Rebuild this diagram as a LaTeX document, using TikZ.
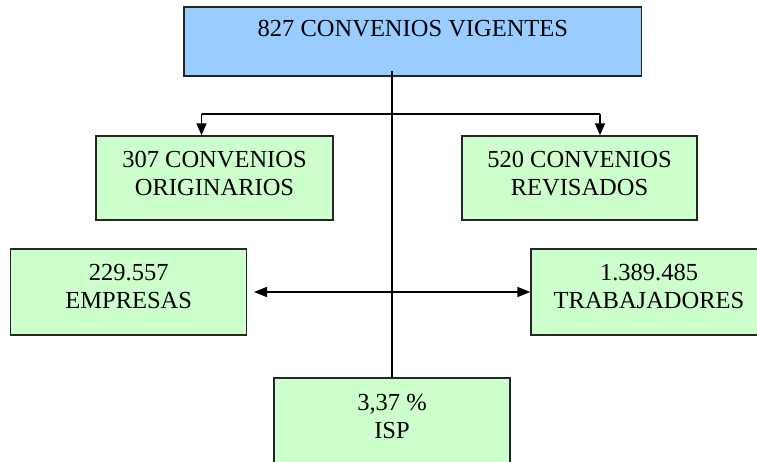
\documentclass[tikz,border=0pt]{standalone}
\usepackage{fontspec}
\setmainfont{Liberation Serif}
\usetikzlibrary{arrows.meta}
\definecolor{boxblue}{HTML}{99CCFF}
\definecolor{boxgreen}{HTML}{CCFFCC}
\begin{document}
\begin{tikzpicture}[x=1pt,y=-1pt,
  box/.style={draw=black!85, line width=1.4pt, rectangle, inner sep=0pt},
  greenbox/.style={box, fill=boxgreen, minimum width=236pt, minimum height=86pt},
  lbl/.style={align=center, inner sep=0pt, font=\fontsize{24.5}{28}\selectfont},
  conn/.style={line width=1.5pt, black},
  tip/.style={conn, -{Triangle[length=12pt,width=10pt]}},
  dtip/.style={conn, {Triangle[length=13pt,width=10pt]}-{Triangle[length=13pt,width=10pt]}}]
\useasboundingbox (0,0) rectangle (757,461);
\clip (0,0) rectangle (757,461);
% boxes
\node[box, fill=boxblue, minimum width=457.7pt, minimum height=69pt] (top) at (412.9,41.5) {};
\node[lbl] (toptext) at (412.9,28.5) {827 CONVENIOS VIGENTES};
\node[greenbox, minimum width=237pt, minimum height=84pt] (orig) at (214.5,178) {};
\node[lbl] (origtext) at (214.5,173.8) {307 CONVENIOS\\ORIGINARIOS};
\node[greenbox, minimum width=235pt, minimum height=84pt] (rev) at (579.5,178) {};
\node[lbl] (revtext) at (579.5,173.8) {520 CONVENIOS\\REVISADOS};
\node[greenbox] (emp) at (128.7,292) {};
\node[lbl] (emptext) at (128.7,286.8) {229.557\\EMPRESAS};
\node[greenbox] (trab) at (649,292) {};
\node[lbl] (trabtext) at (649,286.8) {1.389.485\\TRABAJADORES};
\node[greenbox] (isp) at (392,421) {};
\node[lbl] (isptext) at (392,416) {3,37 \%\\ISP};
% connectors
\coordinate (spine) at (392,70.5);
\coordinate (bl) at (201.5,114);
\coordinate (br) at (600,114);
\draw[conn] (spine) -- (isp.north);
\draw[conn] (bl) -- (br);
\draw[tip] (bl) -- (bl |- orig.north);
\draw[tip] (br) -- (br |- rev.north);
\draw[dtip] ([xshift=6.6pt]emp.east) -- (trab.west);
\end{tikzpicture}
\end{document}
